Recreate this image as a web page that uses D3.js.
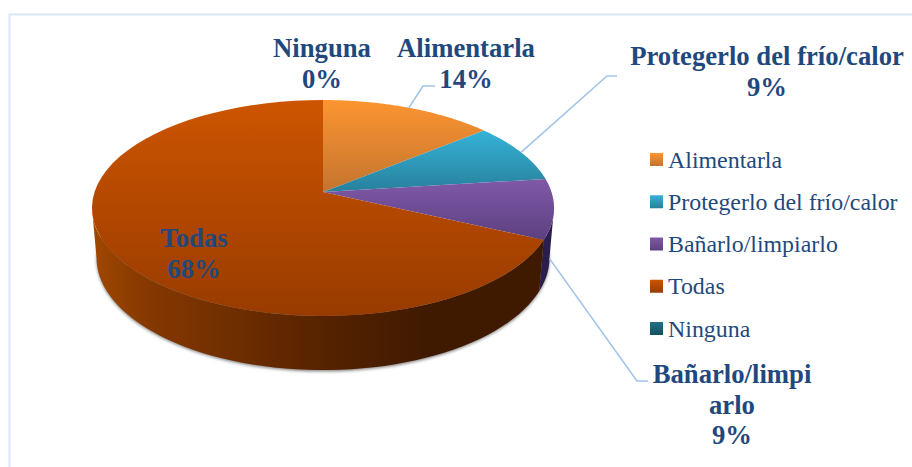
<!DOCTYPE html>
<html>
<head>
<meta charset="utf-8">
<script src="https://cdn.jsdelivr.net/npm/d3@7"></script>
<style>
  html, body { margin: 0; padding: 0; background: #fff; }
  svg { display: block; }
  text { font-family: "Liberation Serif", serif; fill: #1f497d; }
</style>
</head>
<body>
<svg id="chart" width="912" height="467"></svg>
<script>
const categories = ["Alimentarla", "Protegerlo del frío/calor", "Bañarlo/limpiarlo", "Todas", "Ninguna"];
const values = [14, 9, 9, 68, 0];
const percentLabels = ["14%", "9%", "9%", "68%", "0%"];
const labelLines = [["Alimentarla"], ["Protegerlo del frío/calor"], ["Bañarlo/limpi", "arlo"], ["Todas"], ["Ninguna"]];
const topColors = [["#fc9530", "#c4742f"], ["#35b3d8", "#28809c"], ["#8059a8", "#5c4080"], ["#cd5500", "#983b00"], ["#1f7186", "#14505f"]];
const wallColors = ["#c4742f", "#1f6f86", "#2a1e4c", "#9a4400", "#14505f"];

const svg = d3.select("#chart");
const defs = svg.append("defs");

// frame of the chart area
svg.append("path")
  .attr("d", "M9.5,467V14.5H912")
  .attr("fill", "none")
  .attr("stroke", "#dbe8f8")
  .attr("stroke-width", 2);

// perspective: a unit circle (u, v) ends up as a slightly off centre ellipse
const cx = 323, k = 0.148;
const topDisc = { rx: 228.5, ry: 105.6, cy: 192 };
const baseDisc = { rx: 224, ry: 110, cy: 241 };
function project(disc, a) {
  const u = Math.sin(a), v = -Math.cos(a), w = 1 - k * v;
  return [cx + disc.rx * u / w, disc.cy + disc.ry * v / w];
}
function arcPoints(disc, a0, a1) {
  return d3.range(0, 61).map((i) => project(disc, a0 + (a1 - a0) * i / 60));
}
const line = d3.line();

const slices = d3.pie().sort(null).value((d) => d)(values);
const rightEdge = Math.acos(-k), leftEdge = 2 * Math.PI - rightEdge;

const blur = defs.append("filter").attr("id", "soft").attr("x", "-5%").attr("y", "-5%").attr("width", "110%").attr("height", "110%");
blur.append("feGaussianBlur").attr("stdDeviation", 1.5);

// shadow under the base
svg.append("path")
  .attr("d", line(arcPoints(baseDisc, rightEdge - 0.2, leftEdge + 0.2)))
  .attr("transform", "translate(0,1.5)")
  .attr("fill", "#8a8a8a")
  .attr("filter", "url(#soft)");

// side walls
const wallGrad = defs.append("linearGradient").attr("id", "wallTodas")
  .attr("gradientUnits", "userSpaceOnUse").attr("x1", 93).attr("x2", 560).attr("y1", 0).attr("y2", 0);
[[0, "#a04700"], [0.12, "#853800"], [0.3, "#6f2e00"], [0.5, "#552200"], [0.72, "#3f1a00"], [1, "#3f1a00"]]
  .forEach((s) => wallGrad.append("stop").attr("offset", s[0]).attr("stop-color", s[1]));

slices.forEach((s, i) => {
  const a0 = Math.max(s.startAngle, rightEdge), a1 = Math.min(s.endAngle, leftEdge);
  if (a1 <= a0) return;
  const pts = arcPoints(topDisc, a0, a1).concat(arcPoints(baseDisc, a0, a1).reverse());
  svg.append("path")
    .attr("d", line(pts) + "Z")
    .attr("fill", categories[i] === "Todas" ? "url(#wallTodas)" : wallColors[i]);
});

// top faces
slices.forEach((s, i) => {
  if (s.endAngle - s.startAngle <= 0) return;
  const g = defs.append("linearGradient").attr("id", "top" + i).attr("x1", 0).attr("x2", 0).attr("y1", 0).attr("y2", 1);
  g.append("stop").attr("offset", 0).attr("stop-color", topColors[i][0]);
  g.append("stop").attr("offset", 1).attr("stop-color", topColors[i][1]);
  const pts = [[cx, topDisc.cy]].concat(arcPoints(topDisc, s.startAngle, s.endAngle));
  svg.append("path")
    .attr("d", line(pts) + "Z")
    .attr("fill", `url(#top${i})`);
});

// leader lines, elbow and end are the data label positions
const mid = (i) => (slices[i].startAngle + slices[i].endAngle) / 2;
const leaders = [
  [project(topDisc, mid(0)), [423, 86], [435, 86]],
  [project(topDisc, mid(1)), [607, 76], [617, 76]],
  [project(baseDisc, mid(2)), [637, 381], [648, 381]],
];
leaders.forEach((pts) => {
  svg.append("path")
    .attr("d", line(pts))
    .attr("fill", "none")
    .attr("stroke", "#a3c4e8")
    .attr("stroke-width", 1.6);
});

// data labels
const labelPos = [[466, 57], [767, 65], [732, 383], [194, 247], [322, 57]];
const labelSize = 26.7;
categories.forEach((c, i) => {
  const t = svg.append("text")
    .attr("text-anchor", "middle")
    .attr("font-weight", "bold")
    .attr("font-size", labelSize);
  labelLines[i].concat(percentLabels[i]).forEach((str, j) => {
    t.append("tspan").attr("x", labelPos[i][0]).attr("y", labelPos[i][1] + j * 30.7).text(str);
  });
});

// legend
const legendY = d3.scalePoint().domain(categories).range([160, 329]);
const legend = svg.append("g").selectAll("g").data(categories).join("g")
  .attr("transform", (d) => `translate(650,${legendY(d)})`);
legend.each(function (d, i) {
  const g = defs.append("linearGradient").attr("id", "leg" + i).attr("x1", 0).attr("x2", 0).attr("y1", 0).attr("y2", 1);
  g.append("stop").attr("offset", 0).attr("stop-color", topColors[i][0]);
  g.append("stop").attr("offset", 1).attr("stop-color", topColors[i][1]);
});
legend.append("rect")
  .attr("x", 0).attr("y", -7).attr("width", 13).attr("height", 13)
  .attr("fill", (d, i) => `url(#leg${i})`);
legend.append("text")
  .attr("x", 18).attr("y", 7.5)
  .attr("font-size", 23.9)
  .text((d) => d);
</script>
</body>
</html>
